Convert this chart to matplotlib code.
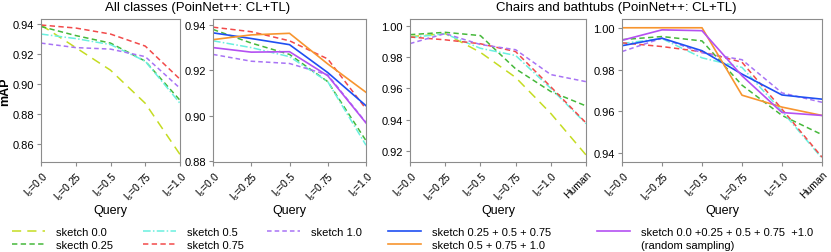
import matplotlib
matplotlib.use('Agg')
import matplotlib.pyplot as plt
from matplotlib.lines import Line2D

plt.rcParams['font.family'] = ['Liberation Sans', 'DejaVu Sans']
plt.rcParams['mathtext.fontset'] = 'custom'
plt.rcParams['mathtext.rm'] = 'Liberation Sans'
plt.rcParams['mathtext.it'] = 'Liberation Sans'

# ---- data ----
queries_all = ['l$_s$=0.0', 'l$_s$=0.25', 'l$_s$=0.5', 'l$_s$=0.75', 'l$_s$=1.0']
queries_chairs = queries_all + ['Human']

# all classes
all_s00 = [0.939, 0.924, 0.909, 0.887, 0.853]
all_s025 = [0.938, 0.932, 0.927, 0.915, 0.889]
all_s05 = [0.933, 0.930, 0.926, 0.915, 0.887]
all_s075 = [0.939, 0.937, 0.933, 0.925, 0.903]
all_s10 = [0.927, 0.924, 0.923, 0.918, 0.897]
all_c1 = [0.9365, 0.934, 0.9313, 0.919, 0.9044]   # 0.25+0.5+0.75
all_c2 = [0.9335, 0.9356, 0.9363, 0.9228, 0.9103]  # 0.5+0.75+1.0
all_c3 = [0.930, 0.928, 0.9282, 0.9176, 0.8968]    # random sampling

# chairs and bathtubs
ch_s00 = [0.993, 0.995, 0.983, 0.967, 0.944, 0.9175]
ch_s025 = [0.9943, 0.9958, 0.9937, 0.9725, 0.958, 0.9488]
ch_s05 = [0.9925, 0.9948, 0.9856, 0.981, 0.960, 0.9375]
ch_s075 = [0.9928, 0.991, 0.9885, 0.9835, 0.961, 0.938]
ch_s10 = [0.9886, 0.995, 0.988, 0.9847, 0.9688, 0.9643]
ch_c1 = [0.9914, 0.995, 0.989, 0.9778, 0.9678, 0.9658]
ch_c2 = [1.000, 1.000, 1.000, 0.9677, 0.962, 0.958]
ch_c3 = [0.994, 0.999, 0.9986, 0.977, 0.9594, 0.958]

# ---- styles ----
c_s00, c_s025, c_s05, c_s075, c_s10 = '#c5dc22', '#45b83a', '#6af0df', '#f24a4a', '#a873f5'
c_c1, c_c2, c_c3 = '#1f4ff2', '#f7952f', '#b450f2'
st = {
    's00': dict(color=c_s00, lw=1.1, dashes=(6, 4)),
    's025': dict(color=c_s025, lw=1.1, dashes=(3.5, 2.2)),
    's05': dict(color=c_s05, lw=1.1, dashes=(5, 1.5, 1, 1.5)),
    's075': dict(color=c_s075, lw=1.1, dashes=(3.5, 2.2)),
    's10': dict(color=c_s10, lw=1.1, dashes=(3, 2)),
    'c1': dict(color=c_c1, lw=1.2, ls='-'),
    'c2': dict(color=c_c2, lw=1.2, ls='-'),
    'c3': dict(color=c_c3, lw=1.2, ls='-'),
}

fig = plt.figure(figsize=(8.31, 2.53), dpi=100)
W, H = 831.0, 253.0
def box(l, r, t=20, b=163):
    return [l / W, 1 - b / H, (r - l) / W, (b - t) / H]

ax1 = fig.add_axes(box(41, 180))
ax2 = fig.add_axes(box(213, 366))
ax3 = fig.add_axes(box(410, 586))
ax4 = fig.add_axes(box(622, 822))

def draw(ax, series, labels, ylim, yticks):
    x = list(range(len(labels)))
    for key, vals in series:
        ax.plot(x, vals, **st[key])
    ax.set_xlim(0, len(labels) - 1)
    ax.set_ylim(*ylim)
    ax.set_yticks(yticks)
    ax.set_yticklabels(['%.2f' % v for v in yticks])
    ax.set_xticks(x)
    ax.set_xticklabels(labels, rotation=45, ha='right', rotation_mode='anchor', fontsize=7.5)
    ax.set_xlabel('Query', fontsize=9, labelpad=1)
    for sp in ax.spines.values():
        sp.set_color('#8c8c8c')
        sp.set_linewidth(0.8)
    ax.tick_params(axis='both', colors='#8c8c8c', labelcolor='black', length=3, width=0.8, pad=2)
    ax.tick_params(axis='y', labelsize=8)

draw(ax1, [('s00', all_s00), ('s025', all_s025), ('s05', all_s05), ('s10', all_s10), ('s075', all_s075)],
     queries_all, (0.848, 0.943), [0.86, 0.88, 0.90, 0.92, 0.94])
draw(ax2, [('s025', all_s025), ('s05', all_s05), ('s10', all_s10), ('s075', all_s075),
           ('c3', all_c3), ('c1', all_c1), ('c2', all_c2)],
     queries_all, (0.8796, 0.9426), [0.88, 0.90, 0.92, 0.94])
draw(ax3, [('s00', ch_s00), ('s025', ch_s025), ('s05', ch_s05), ('s075', ch_s075), ('s10', ch_s10)],
     queries_chairs, (0.913, 1.0043), [0.92, 0.94, 0.96, 0.98, 1.00])
draw(ax4, [('s025', ch_s025), ('s05', ch_s05), ('s075', ch_s075), ('s10', ch_s10),
           ('c1', ch_c1), ('c2', ch_c2), ('c3', ch_c3)],
     queries_chairs, (0.9357, 1.0042), [0.94, 0.96, 0.98, 1.00])

ax1.set_ylabel('mAP', fontsize=9, fontweight='bold')
ax1.yaxis.set_label_coords(-0.215, 0.5)

fig.text(198 / W, 1 - 8 / H, 'All classes (PoinNet++: CL+TL)', ha='center', va='center',
         fontsize=9.5, family=['Liberation Sans Narrow', 'Liberation Sans'])
fig.text(616 / W, 1 - 8 / H, 'Chairs and bathtubs (PoinNet++: CL+TL)', ha='center', va='center',
         fontsize=9.5, family=['Liberation Sans Narrow', 'Liberation Sans'])

# ---- legend, placed column by column ----
blank = Line2D([], [], color='none')
cols = [
    (12, [(Line2D([], [], **st['s00']), 'sketch 0.0'), (Line2D([], [], **st['s025']), 'skecth 0.25')]),
    (143, [(Line2D([], [], **st['s05']), 'sketch 0.5'), (Line2D([], [], **st['s075']), 'sketch 0.75')]),
    (267, [(Line2D([], [], **st['s10']), 'sketch 1.0'), (blank, ' ')]),
    (388, [(Line2D([], [], **st['c1']), 'sketch 0.25 + 0.5 + 0.75'), (Line2D([], [], **st['c2']), 'sketch 0.5 + 0.75 + 1.0')]),
    (597, [(Line2D([], [], **st['c3']), 'sketch 0.0 +0.25 + 0.5 + 0.75  +1.0'), (blank, '(random sampling)')]),
]
for x0, items in cols:
    fig.legend([h for h, _ in items], [l for _, l in items], loc='upper left',
               bbox_to_anchor=(x0 / W, 1 - 228 / H), frameon=False, fontsize=8,
               handlelength=3.0, handletextpad=1.0, labelspacing=0.3,
               borderpad=0, borderaxespad=0)

fig.savefig('out.png', dpi=100)
